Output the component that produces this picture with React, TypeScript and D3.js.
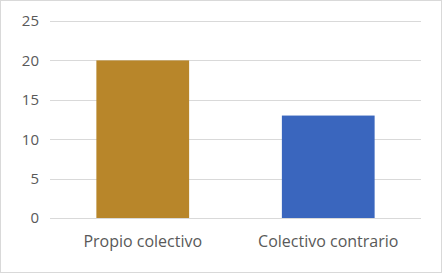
import React from "react";
import * as d3 from "d3";

const categories = ["Propio colectivo", "Colectivo contrario"];
const values = [20, 13];
const colors = ["#B8862A", "#3A66BE"];
const yTicks = [0, 5, 10, 15, 20, 25];

export default function App() {
  const W = 442, H = 273;
  const left = 50, right = 421, top = 21, bottom = 218;
  const x = d3.scaleBand<string>().domain(categories).range([left, right]).paddingInner(0.5).paddingOuter(0.25);
  const y = d3.scaleLinear().domain([0, 25]).range([bottom, top]);
  const font = "'Open Sans', sans-serif";
  return (
    <svg width={W} height={H} style={{ position: "absolute", left: 0, top: 0, background: "#fff" }}>
      <rect x={0.5} y={0.5} width={W - 1} height={H - 1} fill="#fff" stroke="#d9d9d9" />
      {yTicks.map((t) => (
        <g key={t}>
          <line x1={left} x2={right} y1={Math.round(y(t)) + 0.5} y2={Math.round(y(t)) + 0.5} stroke="#d9d9d9" />
          <text x={39} y={y(t)} dy="0.36em" textAnchor="end" fontFamily={font} fontSize={15} fill="#595959">{t}</text>
        </g>
      ))}
      {categories.map((c, i) => (
        <rect key={c} x={x(c)} y={y(values[i])} width={x.bandwidth()} height={bottom - y(values[i])} fill={colors[i]} />
      ))}
      {categories.map((c) => (
        <text key={c} x={(x(c) as number) + x.bandwidth() / 2} y={247} textAnchor="middle" fontFamily={font} fontSize={16} fill="#595959">{c}</text>
      ))}
    </svg>
  );
}
